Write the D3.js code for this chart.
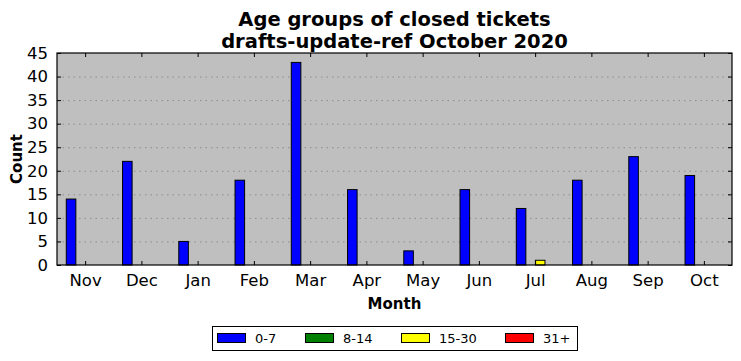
<!DOCTYPE html>
<html>
<head>
<meta charset="utf-8">
<script src="https://cdn.jsdelivr.net/npm/d3@7"></script>
<style>
body { margin: 0; background: #fff; }
svg { font-family: "DejaVu Sans", sans-serif; }
</style>
</head>
<body>
<svg id="chart" width="741" height="361"></svg>
<script>
var months = ["Nov", "Dec", "Jan", "Feb", "Mar", "Apr", "May", "Jun", "Jul", "Aug", "Sep", "Oct"];
var groups = ["0-7", "8-14", "15-30", "31+"];
var colors = ["#0000ff", "#008000", "#ffff00", "#ff0000"];
var age0_7 = [14, 22, 5, 18, 43, 16, 3, 16, 12, 18, 23, 19];
var age8_14 = [0, 0, 0, 0, 0, 0, 0, 0, 0, 0, 0, 0];
var age15_30 = [0, 0, 0, 0, 0, 0, 0, 0, 1, 0, 0, 0];
var age31 = [0, 0, 0, 0, 0, 0, 0, 0, 0, 0, 0, 0];
var yTicks = [0, 5, 10, 15, 20, 25, 30, 35, 40, 45];

var series = [age0_7, age8_14, age15_30, age31];

var svg = d3.select('#chart');
var plotL = 57, plotR = 732, plotT = 53, plotB = 265;

var x = d3.scaleLinear().domain([-0.5, 11.5]).range([plotL, plotR]);
var y = d3.scaleLinear().domain([0, 45]).range([plotB, plotT]);
var barW = 0.17;
var offsets = [-0.25, -0.08, 0.09, 0.26];

svg.append("rect")
    .attr("x", plotL).attr("y", plotT)
    .attr("width", plotR - plotL).attr("height", plotB - plotT)
    .attr("fill", "#bfbfbf");

// grid
svg.append("g").selectAll("line")
    .data(yTicks.filter(function (d) { return d > 0 && d < 45; }))
    .enter().append("line")
    .attr("x1", plotL).attr("x2", plotR)
    .attr("y1", function (d) { return y(d) + 0.5; })
    .attr("y2", function (d) { return y(d) + 0.5; })
    .attr("stroke", "#8c8c8c")
    .attr("stroke-width", 1)
    .attr("stroke-dasharray", "1.5,4");

// bars
series.forEach(function (vals, i) {
    var g = svg.append("g");
    g.selectAll("rect")
        .data(vals)
        .enter().append("rect")
        .attr("x", function (d, j) { return x(j + offsets[i] - barW / 2); })
        .attr("y", function (d) { return y(d); })
        .attr("width", x(barW) - x(0))
        .attr("height", function (d) { return y(0) - y(d); })
        .attr("fill", colors[i])
        .attr("stroke", "#000")
        .attr("stroke-width", 1);
});

// axes, ticks inward on all sides
var yAxisL = d3.axisLeft(y).tickValues(yTicks).tickSizeInner(-4).tickSizeOuter(0).tickPadding(9);
var yAxisR = d3.axisRight(y).tickValues(yTicks).tickSizeInner(-4).tickSizeOuter(0).tickFormat("");
var xAxisB = d3.axisBottom(x).tickValues(d3.range(12)).tickSizeInner(-4).tickSizeOuter(0).tickPadding(9)
    .tickFormat(function (d) { return months[d]; });
var xAxisT = d3.axisTop(x).tickValues(d3.range(12)).tickSizeInner(-4).tickSizeOuter(0).tickFormat("");

function styleAxis(g) {
    g.select(".domain").remove();
    g.selectAll("line").attr("stroke", "#000");
    g.selectAll("text").attr("font-size", 16.5).attr("fill", "#000").attr("font-family", "DejaVu Sans, sans-serif");
}

svg.append("g").attr("transform", "translate(" + plotL + ",0)").call(yAxisL).call(styleAxis);
svg.append("g").attr("transform", "translate(" + plotR + ",0)").call(yAxisR).call(styleAxis);
svg.append("g").attr("transform", "translate(0," + plotB + ")").call(xAxisB).call(styleAxis);
svg.append("g").attr("transform", "translate(0," + plotT + ")").call(xAxisT).call(styleAxis);

svg.append("rect")
    .attr("x", plotL).attr("y", plotT)
    .attr("width", plotR - plotL).attr("height", plotB - plotT)
    .attr("fill", "none").attr("stroke", "#000").attr("stroke-width", 1.2);

// titles
svg.append("text").attr("x", (plotL + plotR) / 2).attr("y", 26)
    .attr("text-anchor", "middle").attr("font-size", 19.5).attr("font-weight", "bold")
    .text("Age groups of closed tickets");
svg.append("text").attr("x", (plotL + plotR) / 2).attr("y", 48)
    .attr("text-anchor", "middle").attr("font-size", 19.5).attr("font-weight", "bold")
    .text("drafts-update-ref October 2020");

svg.append("text").attr("x", (plotL + plotR) / 2).attr("y", 309)
    .attr("text-anchor", "middle").attr("font-size", 15).attr("font-weight", "bold")
    .text("Month");
svg.append("text")
    .attr("transform", "translate(22," + ((plotT + plotB) / 2) + ") rotate(-90)")
    .attr("text-anchor", "middle").attr("font-size", 15).attr("font-weight", "bold")
    .text("Count");

// legend
var legend = svg.append("g").attr("transform", "translate(212,326)");
legend.append("rect").attr("x", 0.5).attr("y", 0.5).attr("width", 365).attr("height", 24)
    .attr("fill", "#fff").attr("stroke", "#000");
var legX = [5, 93, 189, 293];
groups.forEach(function (name, i) {
    legend.append("rect").attr("x", legX[i] + 0.5).attr("y", 7.5).attr("width", 28).attr("height", 9)
        .attr("fill", colors[i]).attr("stroke", "#000");
    legend.append("text").attr("x", legX[i] + 38).attr("y", 17)
        .attr("font-size", 13).text(name);
});
</script>
</body>
</html>
